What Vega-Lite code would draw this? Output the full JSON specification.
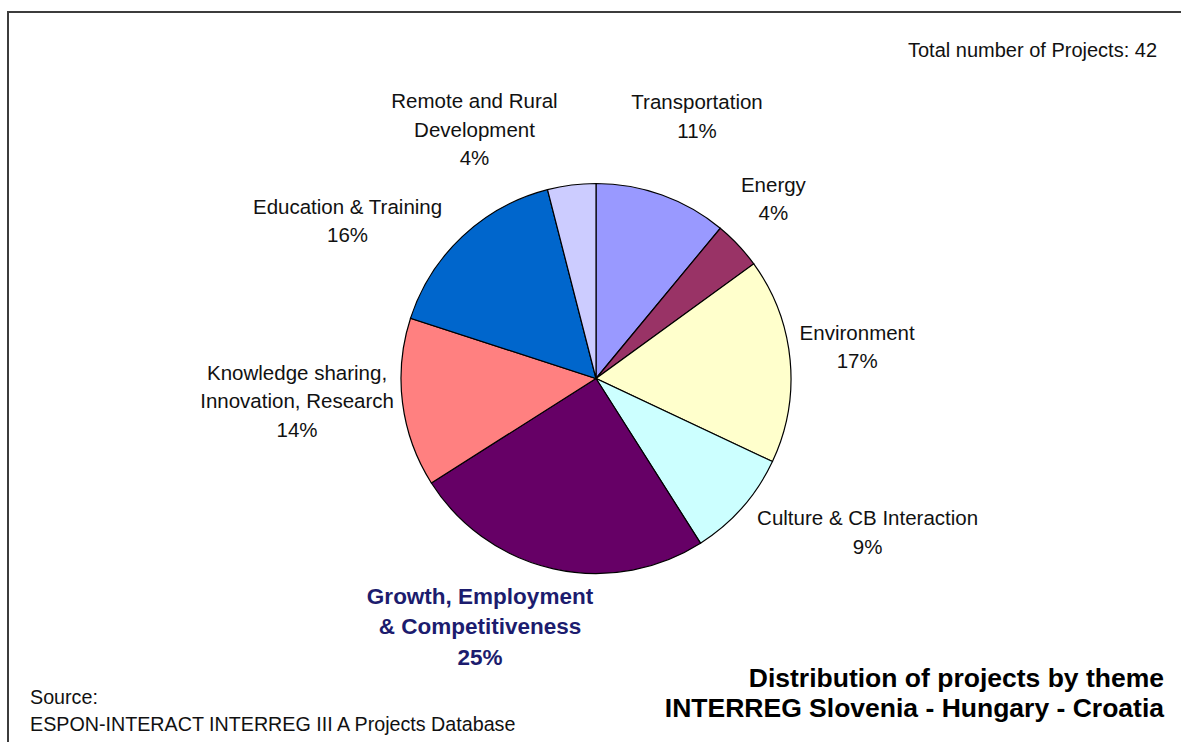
{
  "$schema": "https://vega.github.io/schema/vega-lite/v6.json",
  "width": 1181,
  "height": 742,
  "autosize": {"type": "fit", "contains": "padding"},
  "padding": {"left": 8, "top": 12, "right": -3, "bottom": -3},
  "background": "#ffffff",
  "config": {
    "view": {"stroke": "#3c3c3c", "strokeWidth": 2},
    "text": {"font": "Liberation Sans", "fontSize": 20.5, "color": "#111111", "lineBreak": "\n", "lineHeight": 28.5}
  },
  "title": {
    "text": ["Distribution of projects by theme", "INTERREG Slovenia - Hungary - Croatia"],
    "orient": "bottom",
    "anchor": "end",
    "frame": "group",
    "offset": -58,
    "dx": -20,
    "baseline": "alphabetic",
    "font": "Liberation Sans",
    "fontSize": 26.5,
    "fontWeight": "bold",
    "color": "#000000",
    "lineHeight": 30
  },
  "data": {
    "values": [
      {"order": 1, "theme": "Transportation", "value": 11, "label": "Transportation\n11%"},
      {"order": 2, "theme": "Energy", "value": 4, "label": "Energy\n4%"},
      {"order": 3, "theme": "Environment", "value": 17, "label": "Environment\n17%"},
      {"order": 4, "theme": "Culture & CB Interaction", "value": 9, "label": "Culture & CB Interaction\n9%"},
      {"order": 5, "theme": "Growth, Employment & Competitiveness", "value": 25, "label": "Growth, Employment\n& Competitiveness\n25%"},
      {"order": 6, "theme": "Knowledge sharing, Innovation, Research", "value": 14, "label": "Knowledge sharing,\nInnovation, Research\n14%"},
      {"order": 7, "theme": "Education & Training", "value": 16, "label": "Education & Training\n16%"},
      {"order": 8, "theme": "Remote and Rural Development", "value": 4, "label": "Remote and Rural\nDevelopment\n4%"}
    ]
  },
  "encoding": {
    "theta": {"field": "value", "type": "quantitative", "stack": true},
    "order": {"field": "order", "type": "quantitative", "sort": "ascending"},
    "detail": {"field": "theme", "type": "nominal"}
  },
  "layer": [
    {
      "mark": {"type": "arc", "outerRadius": 195, "stroke": "#000000", "strokeWidth": 1.2},
      "encoding": {
        "color": {
          "field": "theme",
          "type": "nominal",
          "scale": {
            "domain": ["Transportation", "Energy", "Environment", "Culture & CB Interaction", "Growth, Employment & Competitiveness", "Knowledge sharing, Innovation, Research", "Education & Training", "Remote and Rural Development"],
            "range": ["#9999ff", "#993366", "#ffffcc", "#ccffff", "#660066", "#ff8080", "#0066cc", "#ccccff"]
          },
          "legend": null
        }
      }
    },
    {
      "mark": {"type": "text", "radius": 293, "thetaOffset": 0.0065, "baseline": "middle", "align": "center"},
      "encoding": {"text": {"condition": {"test": "datum.theme === 'Transportation'", "field": "label"}, "value": ""}}
    },
    {
      "mark": {"type": "text", "radius": 262, "thetaOffset": -0.073, "baseline": "middle", "align": "center"},
      "encoding": {"text": {"condition": {"test": "datum.theme === 'Energy'", "field": "label"}, "value": ""}}
    },
    {
      "mark": {"type": "text", "radius": 265, "thetaOffset": -0.076, "baseline": "middle", "align": "center"},
      "encoding": {"text": {"condition": {"test": "datum.theme === 'Environment'", "field": "label"}, "value": ""}}
    },
    {
      "mark": {"type": "text", "radius": 306, "thetaOffset": -0.244, "baseline": "middle", "align": "center"},
      "encoding": {"text": {"condition": {"test": "datum.theme === 'Culture & CB Interaction'", "field": "label"}, "value": ""}}
    },
    {
      "mark": {"type": "text", "radius": 247, "thetaOffset": 0.269, "baseline": "middle", "align": "center", "fontWeight": "bold", "fontSize": 22.5, "color": "#1c1c6e", "lineHeight": 30.5},
      "encoding": {"text": {"condition": {"test": "datum.theme === 'Growth, Employment & Competitiveness'", "field": "label"}, "value": ""}}
    },
    {
      "mark": {"type": "text", "radius": 299, "thetaOffset": 0.142, "baseline": "middle", "align": "center"},
      "encoding": {"text": {"condition": {"test": "datum.theme === 'Knowledge sharing, Innovation, Research'", "field": "label"}, "value": ""}}
    },
    {
      "mark": {"type": "text", "radius": 301.6, "thetaOffset": -0.214, "baseline": "middle", "align": "center"},
      "encoding": {"text": {"condition": {"test": "datum.theme === 'Education & Training'", "field": "label"}, "value": ""}}
    },
    {
      "mark": {"type": "text", "radius": 301.6, "thetaOffset": -0.289, "baseline": "middle", "align": "center"},
      "encoding": {"text": {"condition": {"test": "datum.theme === 'Remote and Rural Development'", "field": "label"}, "value": ""}}
    },
    {
      "data": {"values": [{"note": "Total number of Projects: 42"}]},
      "mark": {"type": "text", "align": "right", "baseline": "alphabetic", "fontSize": 20},
      "encoding": {
        "theta": null, "order": null, "detail": null,
        "text": {"field": "note", "type": "nominal"},
        "x": {"value": 1149},
        "y": {"value": 45}
      }
    },
    {
      "data": {"values": [{"note": "Source:\nESPON-INTERACT INTERREG III A Projects Database"}]},
      "mark": {"type": "text", "align": "left", "baseline": "alphabetic", "fontSize": 19.7, "lineHeight": 26.5},
      "encoding": {
        "theta": null, "order": null, "detail": null,
        "text": {"field": "note", "type": "nominal"},
        "x": {"value": 22},
        "y": {"value": 692}
      }
    }
  ]
}
